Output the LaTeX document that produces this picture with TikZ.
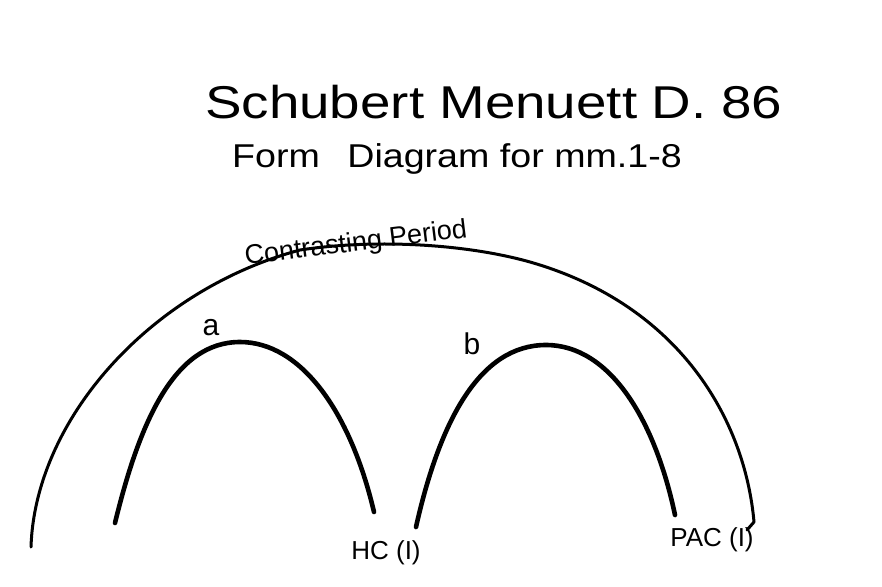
\documentclass[tikz,border=0pt]{standalone}
\usepackage{fontspec}
\setmainfont{Liberation Sans}
\begin{document}
\begin{tikzpicture}[x=1pt,y=-1pt,
  thinarc/.style={line width=3pt,line cap=round,line join=round},
  thickarc/.style={line width=4.6pt,line cap=round,line join=round},
  lbl/.style={inner sep=0pt,font=\fontsize{26}{28}\selectfont}]
\useasboundingbox[fill=white] (0,0) rectangle (882,586);
% title
\node[inner sep=0pt,anchor=base west,xscale=1.19,font=\fontsize{46}{50}\selectfont] (title) at (205,118) {Schubert Menuett\hspace{12pt}D.\ 86};
\node[inner sep=0pt,anchor=base west,xscale=1.14,font=\fontsize{33}{36}\selectfont] (subtitle) at (232,167) {Form\hspace{24pt}Diagram for mm.1-8};
% big arc
\coordinate (bl) at (31,547);
\coordinate (bt1) at (300,250);
\coordinate (bt2) at (530,262);
\coordinate (br) at (754,522);
\coordinate (bhook) at (747,530);
\draw[thinarc] (bl) .. controls (35,420) and (150,290) .. (bt1)
  .. controls (380,238) and (470,245) .. (bt2)
  .. controls (680,305) and (745,420) .. (br) -- (bhook);
\node[lbl,rotate=7,font=\fontsize{27}{29}\selectfont] (period) at (356,244) {Contrasting Period};
% arc a
\coordinate (al) at (115,523);
\coordinate (at) at (240,342);
\coordinate (ar) at (374,512);
\draw[thickarc] (al) .. controls (140,420) and (175,342) .. (at)
  .. controls (300,342) and (350,410) .. (ar);
\node[lbl,font=\fontsize{30}{32}\selectfont] (la) at (211,328) {a};
% arc b
\coordinate (bbl) at (416,527);
\coordinate (bbt) at (546,345);
\coordinate (bbr) at (675,515);
\draw[thickarc] (bbl) .. controls (440,420) and (480,345) .. (bbt)
  .. controls (610,345) and (655,420) .. (bbr);
\node[lbl,font=\fontsize{30}{32}\selectfont] (lb) at (472,344) {b};
% cadence labels
\node[lbl] (hc) at (386,553) {HC (I)};
\node[lbl] (pac) at (712,540) {PAC (I)};
\end{tikzpicture}
\end{document}
